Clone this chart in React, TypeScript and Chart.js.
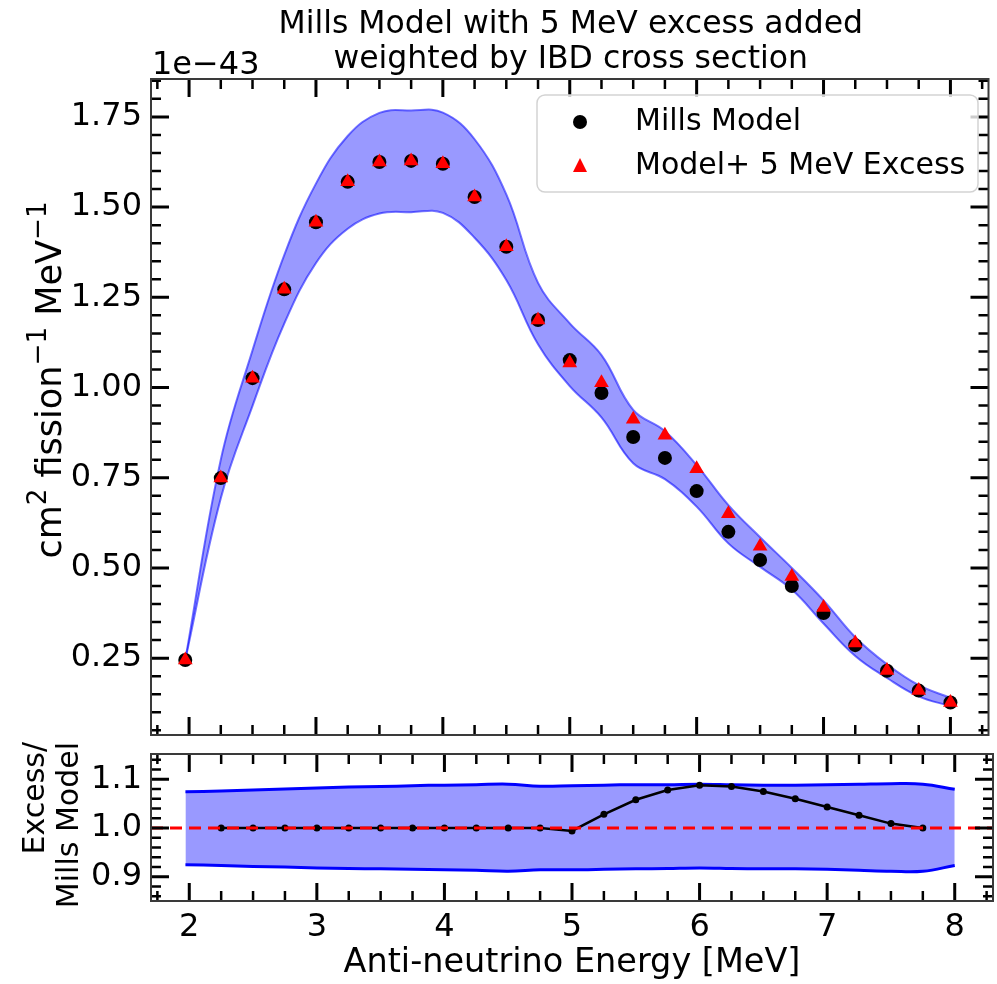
import React, { useEffect, useRef } from "react";
import { Chart, registerables } from "chart.js";

Chart.register(...registerables);

const FONT = '"DejaVu Sans", "Liberation Sans", sans-serif';

// ---------------- data ----------------
const energies = [1.97, 2.25, 2.5, 2.75, 3.0, 3.25, 3.5, 3.75, 4.0, 4.25, 4.5, 4.75, 5.0, 5.25, 5.5, 5.75, 6.0, 6.25, 6.5, 6.75, 7.0, 7.25, 7.5, 7.75, 8.0];
const millsModel = [0.245, 0.749, 1.026, 1.272, 1.458, 1.57, 1.625, 1.628, 1.62, 1.528, 1.39, 1.187, 1.076, 0.985, 0.863, 0.805, 0.713, 0.6, 0.522, 0.45, 0.375, 0.286, 0.215, 0.16, 0.127];
const modelPlusExcess = [0.245, 0.749, 1.026, 1.272, 1.458, 1.57, 1.625, 1.628, 1.62, 1.528, 1.39, 1.187, 1.068, 1.013, 0.912, 0.868, 0.775, 0.65, 0.56, 0.476, 0.39, 0.292, 0.216, 0.16, 0.127];
const bandUpper = [0.245, 0.8, 1.103, 1.367, 1.565, 1.697, 1.761, 1.768, 1.762, 1.688, 1.535, 1.29, 1.178, 1.09, 0.938, 0.879, 0.785, 0.674, 0.585, 0.5, 0.41, 0.308, 0.233, 0.175, 0.14];
const bandLower = [0.245, 0.693, 0.949, 1.177, 1.345, 1.44, 1.482, 1.486, 1.484, 1.415, 1.298, 1.12, 1.004, 0.917, 0.79, 0.746, 0.67, 0.568, 0.503, 0.44, 0.346, 0.256, 0.195, 0.144, 0.117];

const ratioEnergies = [2.25, 2.5, 2.75, 3.0, 3.25, 3.5, 3.75, 4.0, 4.25, 4.5, 4.75, 5.0, 5.25, 5.5, 5.75, 6.0, 6.25, 6.5, 6.75, 7.0, 7.25, 7.5, 7.75];
const excessRatio = [1, 1, 1, 1, 1, 1, 1, 1, 1, 1, 1, 0.994, 1.028, 1.058, 1.078, 1.088, 1.085, 1.075, 1.06, 1.043, 1.026, 1.009, 1.0];
const ratioBandUpper = [1.0745, 1.076, 1.078, 1.08, 1.082, 1.084, 1.085, 1.087, 1.088, 1.089, 1.09, 1.086, 1.087, 1.088, 1.089, 1.089, 1.09, 1.089, 1.088, 1.088, 1.089, 1.09, 1.091, 1.09, 1.0795];
const ratioBandLower = [0.9245, 0.923, 0.921, 0.92, 0.918, 0.917, 0.916, 0.915, 0.914, 0.913, 0.911, 0.914, 0.914, 0.915, 0.916, 0.917, 0.918, 0.917, 0.916, 0.916, 0.915, 0.913, 0.911, 0.911, 0.923];

const unityLineX = [1.7, 8.3];
const unityLineY = [1.0, 1.0];

const xTicks = [2, 3, 4, 5, 6, 7, 8];
const topYTicks = [0.25, 0.5, 0.75, 1.0, 1.25, 1.5, 1.75];
const bottomYTicks = [0.9, 1.0, 1.1];

const titleLines = ["Mills Model with 5 MeV excess added", "weighted by IBD cross section"];
const legendLabels = ["Mills Model", "Model+ 5 MeV Excess"];

// ---------------- helpers ----------------
const pts = (xs: number[], ys: number[]) => xs.map((x, i) => ({ x, y: ys[i] }));

function range(start: number, end: number, step: number) {
  const out: number[] = [];
  for (let v = start; v <= end + 1e-9; v += step) out.push(Math.round(v * 1000) / 1000);
  return out;
}

function drawTicks(chart: any, xMinor: number, yMinor: number, yMajorVals: number[]) {
  const { ctx, chartArea: a, scales } = chart;
  const xs = scales.x;
  const ys = scales.y;
  const MAJ = 18;
  const MIN = 10;
  ctx.save();
  ctx.strokeStyle = "#000";
  const xLine = (v: number, len: number, w: number) => {
    const p = xs.getPixelForValue(v);
    if (p < a.left + 1 || p > a.right - 1) return;
    ctx.lineWidth = w;
    ctx.beginPath();
    ctx.moveTo(p, a.top);
    ctx.lineTo(p, a.top + len);
    ctx.moveTo(p, a.bottom);
    ctx.lineTo(p, a.bottom - len);
    ctx.stroke();
  };
  const yLine = (v: number, len: number, w: number) => {
    const p = ys.getPixelForValue(v);
    if (p < a.top + 1 || p > a.bottom - 1) return;
    ctx.lineWidth = w;
    ctx.beginPath();
    ctx.moveTo(a.left, p);
    ctx.lineTo(a.left + len, p);
    ctx.moveTo(a.right, p);
    ctx.lineTo(a.right - len, p);
    ctx.stroke();
  };
  const isMajor = (v: number, list: number[]) => list.some((m) => Math.abs(m - v) < 1e-6);
  range(xs.min - (xs.min % xMinor), xs.max, xMinor).forEach((v) => {
    if (!isMajor(v, xTicks)) xLine(v, MIN, 2.5);
  });
  xTicks.forEach((v) => xLine(v, MAJ, 3));
  const y0 = Math.ceil(ys.min / yMinor) * yMinor;
  range(y0, ys.max, yMinor).forEach((v) => {
    if (!isMajor(v, yMajorVals)) yLine(v, MIN, 2.5);
  });
  yMajorVals.forEach((v) => yLine(v, MAJ, 3));
  ctx.lineWidth = 2;
  ctx.strokeStyle = "#3a3a3a";
  ctx.strokeRect(a.left, a.top, a.right - a.left, a.bottom - a.top);
  ctx.restore();
}

type Seg = { t: string; sup?: boolean };
function drawRich(ctx: CanvasRenderingContext2D, segs: Seg[], size: number, supScale: number, x: number, y: number) {
  const widths = segs.map((s) => {
    ctx.font = `${s.sup ? size * supScale : size}px ${FONT}`;
    return ctx.measureText(s.t).width;
  });
  const total = widths.reduce((p, c) => p + c, 0);
  let cx = x - total / 2;
  ctx.textAlign = "left";
  ctx.textBaseline = "alphabetic";
  segs.forEach((s, i) => {
    ctx.font = `${s.sup ? size * supScale : size}px ${FONT}`;
    ctx.fillText(s.t, cx, s.sup ? y - size * 0.42 : y);
    cx += widths[i];
  });
}

const topDecor = {
  id: "topDecor",
  afterDraw(chart: any) {
    const { ctx, chartArea: a } = chart;
    drawTicks(chart, 0.25, 0.05, topYTicks);
    ctx.save();
    ctx.fillStyle = "#000";
    ctx.font = `31.5px ${FONT}`;
    ctx.textAlign = "center";
    ctx.textBaseline = "alphabetic";
    const cx = (a.left + a.right) / 2 + 1;
    ctx.fillText(titleLines[0], cx, 33);
    ctx.fillText(titleLines[1], cx, 68);
    ctx.font = `32px ${FONT}`;
    ctx.textAlign = "left";
    ctx.fillText("1e\u221243", a.left + 1, 74);
    // y label
    ctx.save();
    ctx.translate(61, 380);
    ctx.rotate(-Math.PI / 2);
    drawRich(
      ctx,
      [{ t: "cm" }, { t: "2", sup: true }, { t: " fission" }, { t: "\u22121", sup: true }, { t: " MeV" }, { t: "\u22121", sup: true }],
      35,
      0.75,
      0,
      0
    );
    ctx.restore();
    // legend
    const lx = 537, ly = 95, lw = 441, lh = 97;
    ctx.beginPath();
    (ctx as any).roundRect(lx, ly, lw, lh, 8);
    ctx.fillStyle = "rgba(255,255,255,0.8)";
    ctx.fill();
    ctx.lineWidth = 1.5;
    ctx.strokeStyle = "#d3d3d3";
    ctx.stroke();
    ctx.fillStyle = "#000";
    ctx.beginPath();
    ctx.arc(580, 122, 7, 0, Math.PI * 2);
    ctx.fill();
    ctx.fillStyle = "#ff0000";
    ctx.beginPath();
    ctx.moveTo(580, 158);
    ctx.lineTo(573, 172);
    ctx.lineTo(587, 172);
    ctx.closePath();
    ctx.fill();
    ctx.fillStyle = "#000";
    ctx.font = `30px ${FONT}`;
    ctx.textAlign = "left";
    ctx.textBaseline = "middle";
    ctx.fillText(legendLabels[0], 635, 122);
    ctx.fillText(legendLabels[1], 635, 166);
    ctx.restore();
  },
};

const bottomDecor = {
  id: "bottomDecor",
  afterDraw(chart: any) {
    const { ctx, chartArea: a } = chart;
    drawTicks(chart, 0.25, 0.02, bottomYTicks);
    ctx.save();
    ctx.fillStyle = "#000";
    ctx.font = `33.5px ${FONT}`;
    ctx.textAlign = "center";
    ctx.textBaseline = "alphabetic";
    ctx.fillText("Anti-neutrino Energy [MeV]", (a.left + a.right) / 2, 972);
    ctx.font = `30px ${FONT}`;
    ctx.textAlign = "right";
    ctx.save();
    ctx.translate(44, 742);
    ctx.rotate(-Math.PI / 2);
    ctx.fillText("Excess/", 0, 0);
    ctx.restore();
    ctx.save();
    ctx.translate(78, 742);
    ctx.rotate(-Math.PI / 2);
    ctx.fillText("Mills Model", 0, 0);
    ctx.restore();
    ctx.restore();
  },
};

const tickFont = { family: FONT, size: 32 };

export default function App() {
  const topRef = useRef<HTMLCanvasElement | null>(null);
  const botRef = useRef<HTMLCanvasElement | null>(null);

  useEffect(() => {
    const topChart = new Chart(topRef.current as HTMLCanvasElement, {
      type: "line",
      data: {
        datasets: [
          {
            data: pts(energies, bandLower),
            borderColor: "rgba(30,30,255,0.62)",
            borderWidth: 2,
            pointRadius: 0,
            fill: false,
            tension: 0.4,
            order: 4,
          },
          {
            data: pts(energies, bandUpper),
            borderColor: "rgba(30,30,255,0.62)",
            borderWidth: 2,
            pointRadius: 0,
            fill: "-1",
            backgroundColor: "rgba(0,0,255,0.4)",
            tension: 0.4,
            order: 3,
          },
          {
            label: legendLabels[0],
            data: pts(energies, millsModel),
            showLine: false,
            pointRadius: 7,
            pointBackgroundColor: "#000",
            pointBorderWidth: 0,
            order: 2,
          },
          {
            label: legendLabels[1],
            data: pts(energies, modelPlusExcess),
            showLine: false,
            pointStyle: "triangle",
            pointRadius: 8.5,
            pointBackgroundColor: "#ff0000",
            pointBorderWidth: 0,
            order: 1,
          },
        ] as any,
      },
      options: {
        animation: false,
        responsive: false,
        layout: { padding: { left: 0, top: 79, right: 4, bottom: 249 } },
        plugins: { legend: { display: false }, tooltip: { enabled: false }, title: { display: false } },
        scales: {
          x: { type: "linear", min: 1.7, max: 8.3, display: false },
          y: {
            type: "linear",
            min: 0.037,
            max: 1.855,
            afterFit: (s: any) => {
              s.width = 151;
            },
            afterBuildTicks: (s: any) => {
              s.ticks = topYTicks.map((v) => ({ value: v }));
            },
            grid: { display: false, drawTicks: false },
            border: { display: false },
            ticks: {
              font: tickFont,
              color: "#000",
              padding: 9,
              autoSkip: false,
              callback: (v: any) => Number(v).toFixed(2),
            },
          },
        },
      } as any,
      plugins: [topDecor],
    });

    const botChart = new Chart(botRef.current as HTMLCanvasElement, {
      type: "line",
      data: {
        datasets: [
          {
            data: pts(energies, ratioBandLower),
            borderColor: "#0000ff",
            borderWidth: 3,
            pointRadius: 0,
            fill: false,
            tension: 0.4,
            order: 5,
          },
          {
            data: pts(energies, ratioBandUpper),
            borderColor: "#0000ff",
            borderWidth: 3,
            pointRadius: 0,
            fill: "-1",
            backgroundColor: "rgba(0,0,255,0.4)",
            tension: 0.4,
            order: 4,
          },
          {
            data: pts(ratioEnergies, excessRatio),
            borderColor: "#000",
            borderWidth: 2.5,
            pointRadius: 3.5,
            pointBackgroundColor: "#000",
            pointBorderWidth: 0,
            tension: 0,
            order: 3,
          },
          {
            data: pts(unityLineX, unityLineY),
            borderColor: "#ff0000",
            borderWidth: 3,
            borderDash: [12, 7],
            pointRadius: 0,
            order: 2,
          },
        ] as any,
      },
      options: {
        animation: false,
        responsive: false,
        layout: { padding: { left: 0, top: 754, right: 4, bottom: 0 } },
        plugins: { legend: { display: false }, tooltip: { enabled: false }, title: { display: false } },
        scales: {
          x: {
            type: "linear",
            min: 1.7,
            max: 8.3,
            afterFit: (s: any) => {
              s.height = 83;
            },
            afterBuildTicks: (s: any) => {
              s.ticks = xTicks.map((v) => ({ value: v }));
            },
            grid: { display: false, drawTicks: false },
            border: { display: false },
            ticks: {
              font: tickFont,
              color: "#000",
              padding: 7,
              autoSkip: false,
              maxRotation: 0,
              callback: (v: any) => String(v),
            },
          },
          y: {
            type: "linear",
            min: 0.85,
            max: 1.152,
            afterFit: (s: any) => {
              s.width = 151;
            },
            afterBuildTicks: (s: any) => {
              s.ticks = bottomYTicks.map((v) => ({ value: v }));
            },
            grid: { display: false, drawTicks: false },
            border: { display: false },
            ticks: {
              font: tickFont,
              color: "#000",
              padding: 9,
              autoSkip: false,
              callback: (v: any) => Number(v).toFixed(1),
            },
          },
        },
      } as any,
      plugins: [bottomDecor],
    });

    return () => {
      topChart.destroy();
      botChart.destroy();
    };
  }, []);

  return (
    <div style={{ position: "absolute", left: 0, top: 0, width: 997, height: 984, background: "#fff" }}>
      <canvas ref={topRef} width={997} height={984} style={{ position: "absolute", left: 0, top: 0, width: 997, height: 984 }} />
      <canvas ref={botRef} width={997} height={984} style={{ position: "absolute", left: 0, top: 0, width: 997, height: 984 }} />
    </div>
  );
}
